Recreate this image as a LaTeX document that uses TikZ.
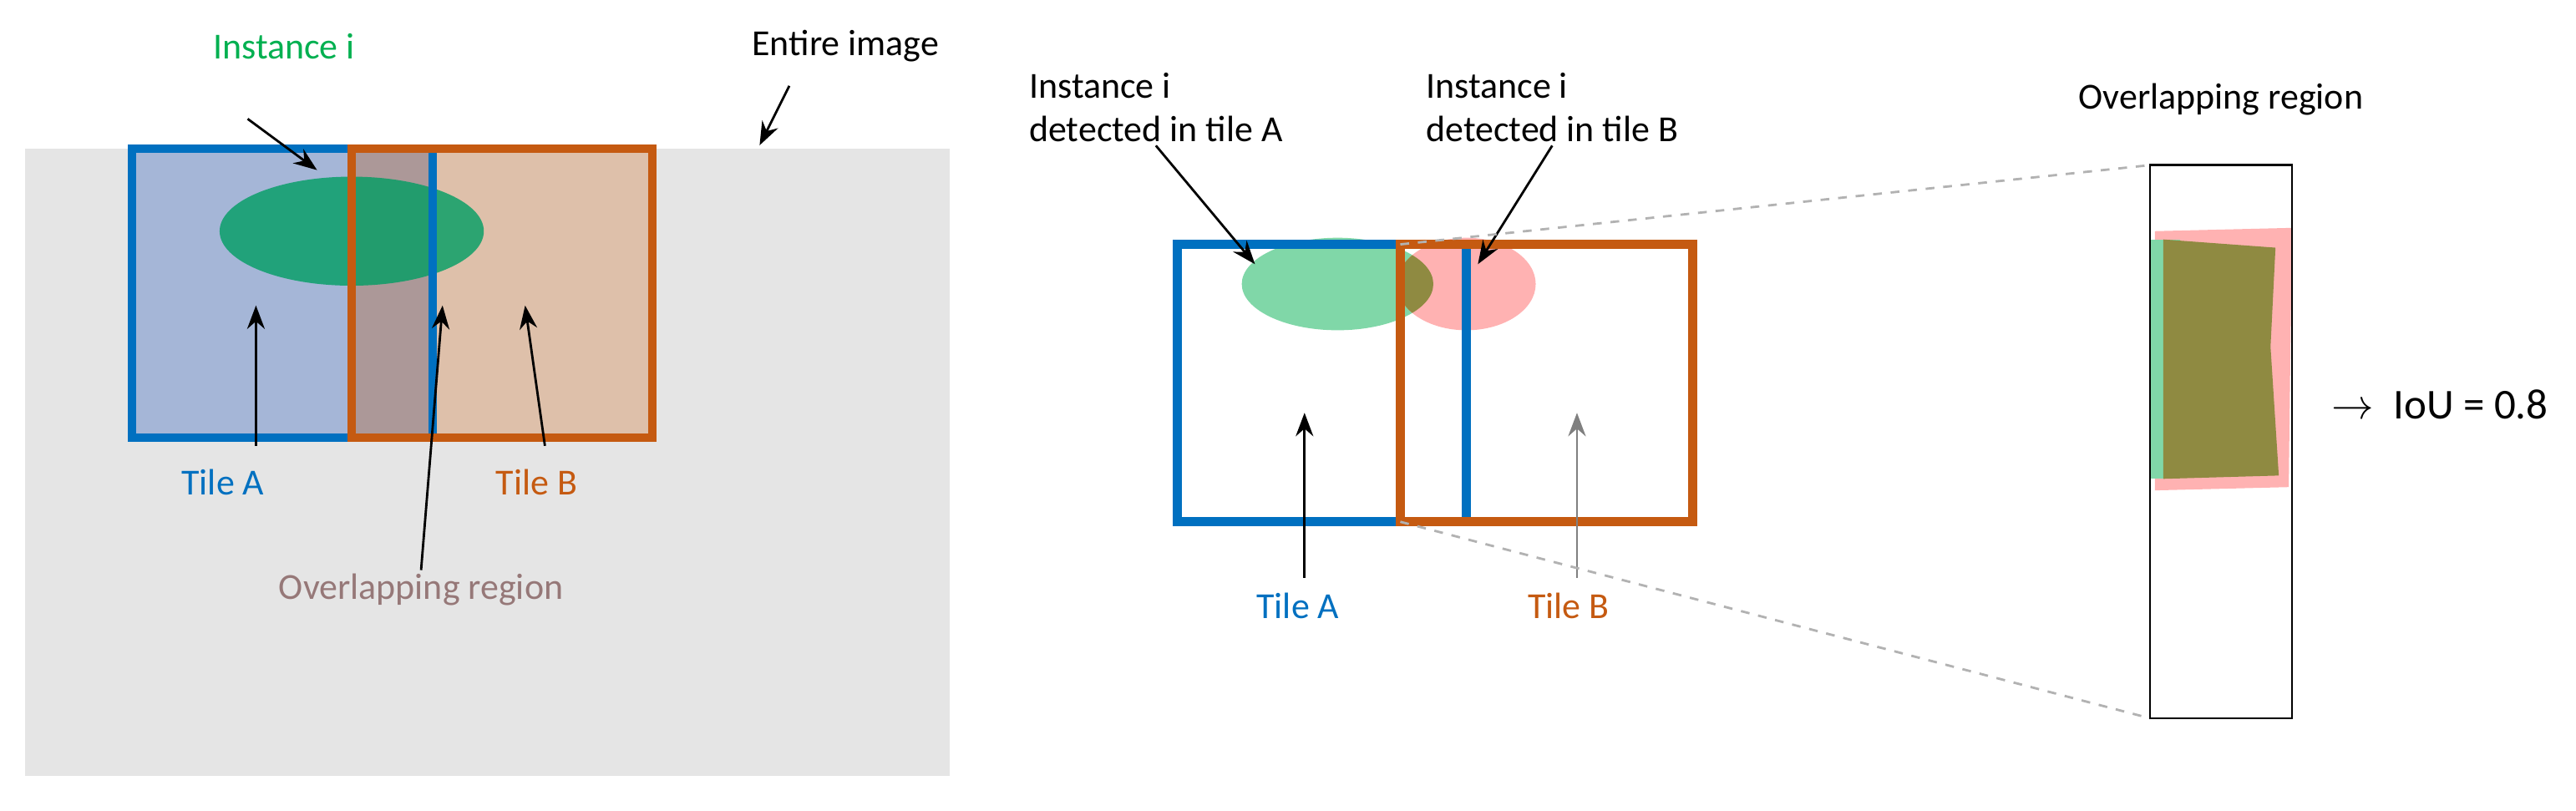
\documentclass[tikz,border=0pt]{standalone}
\usepackage{fontspec}
\setmainfont{Carlito}
\usetikzlibrary{positioning,arrows.meta}
\definecolor{tileA}{RGB}{0,112,192}
\definecolor{tileB}{RGB}{197,90,17}
\definecolor{inst}{RGB}{0,176,80}
\definecolor{ovl}{RGB}{150,120,120}
\definecolor{fillA}{RGB}{165,182,215}
\definecolor{fillB}{RGB}{222,192,170}
\definecolor{fillO}{RGB}{172,152,152}
\begin{document}
\begin{tikzpicture}[x=0.01977cm,y=-0.01977cm,
    lbl/.style={font=\fontsize{12.5}{15}\selectfont,align=center,inner sep=1pt},
    ptr/.style={-{Stealth[length=8pt,width=6pt]},line width=0.8pt}]
    \useasboundingbox (0,0) rectangle (1560,491);
    % Left panel: entire image
    \fill[gray!20] (15,90) rectangle (575,470);
    \fill[fillA] (80,90) rectangle (262,265);
    \fill[fillB] (262,90) rectangle (395,265);
    \fill[fillO] (213,90) rectangle (262,265);
    \fill[inst!60!teal,opacity=0.8] (213,140) ellipse [x radius=80,y radius=33];
    \draw[tileA,line width=3pt] (80,90) rectangle (262,265);
    \draw[tileB,line width=3pt] (213,90) rectangle (395,265);
    \node[lbl,text=inst] (instL) at (172,28) {Instance i};
    \node[lbl] (entire) at (512,28) {Entire image};
    \node[lbl,text=tileA] (tAL) at (135,292) {Tile A};
    \node[lbl,text=tileB] (tBL) at (325,292) {Tile B};
    \node[lbl,text=ovl] (ovL) at (255,357) {Overlapping region};
    \coordinate (eI) at (192,103); \coordinate (eE) at (460,88);
    \coordinate (eA) at (155,185); \coordinate (eB) at (318,185);
    \coordinate (eO) at (268,185);
    \draw[ptr] (150,72) -- (eI);
    \draw[ptr] (478,52) -- (eE);
    \draw[ptr] (155,270) -- (eA);
    \draw[ptr] (330,270) -- (eB);
    \draw[ptr] (ovL.north) -- (eO);

    % Right panel: detections
    \fill[inst!50] (810,172) ellipse [x radius=58,y radius=28];
    \fill[red!30] (888,172) ellipse [x radius=42,y radius=28];
    \begin{scope}
        \clip (888,172) ellipse [x radius=42,y radius=28];
        \fill[olive!55!gray] (810,172) ellipse [x radius=58,y radius=28];
    \end{scope}
    \draw[tileA,line width=3pt] (713,148) rectangle (888,316);
    \draw[tileB,line width=3pt] (848,148) rectangle (1025,316);
    \node[lbl,align=left] (dA) at (700,65) {Instance i\\detected in tile A};
    \node[lbl,align=left] (dB) at (940,65) {Instance i\\detected in tile B};
    \node[lbl,text=tileA] (tAR) at (786,367) {Tile A};
    \node[lbl,text=tileB] (tBR) at (950,367) {Tile B};
    \coordinate (eDA) at (760,160); \coordinate (eDB) at (895,160);
    \coordinate (eTA) at (790,250); \coordinate (eTB) at (955,250);
    \draw[ptr] (dA.south) -- (eDA);
    \draw[ptr] (dB.south) -- (eDB);
    \draw[ptr] (790,350) -- (eTA);
    \draw[ptr,gray] (955,350) -- (eTB);

    % Zoomed overlap
    \coordinate (zA) at (848,148); \coordinate (zB) at (848,316);
    \coordinate (zTL) at (1302,100); \coordinate (zBL) at (1302,435);
    \draw[gray!60,dashed,line width=0.8pt] (zA) -- (zTL);
    \draw[gray!60,dashed,line width=0.8pt] (zB) -- (zBL);
    \fill[red!30] (1305,140) -- (1388,138) -- (1386,295) -- (1305,297) -- cycle;
    \fill[inst!50] (1302,145) rectangle (1320,290);
    \fill[olive!55!gray] (1310,145) -- (1378,150) -- (1375,210) -- (1380,288) -- (1310,290) -- cycle;
    \draw[line width=0.8pt] (1302,100) rectangle (1388,435);
    \node[lbl] (ovR) at (1345,60) {Overlapping region};
    \node[lbl,anchor=west,font=\fontsize{14.5}{17}\selectfont] (iou) at (1410,245) {$\rightarrow$\ \ IoU = 0.8};
\end{tikzpicture}
\end{document}
